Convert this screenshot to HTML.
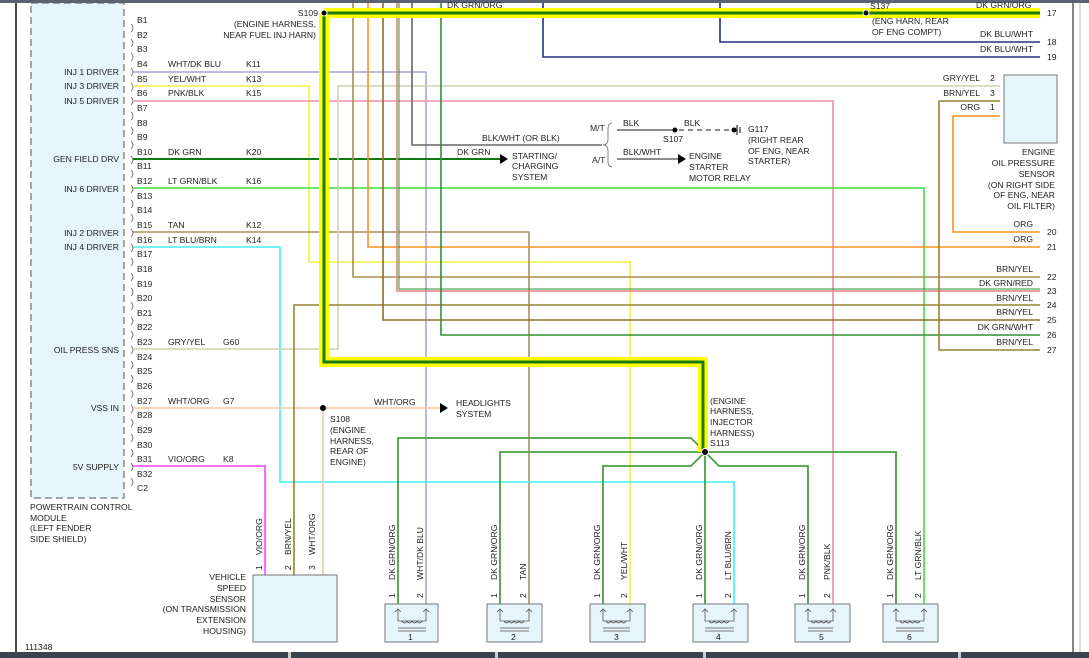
<!DOCTYPE html>
<html><head><meta charset="utf-8"><style>
html,body{margin:0;padding:0;background:#fff;}
svg{display:block;font-family:"Liberation Sans",Arial,sans-serif;}
text{font-size:8.6px;fill:#222;}
</style></head><body>
<svg width="1089" height="658" viewBox="0 0 1089 658" xmlns="http://www.w3.org/2000/svg">
<line x1="16" y1="0" x2="16" y2="652" stroke="#111" stroke-width="1.5"/>
<line x1="1073" y1="0" x2="1073" y2="652" stroke="#333" stroke-width="1.2"/>
<line x1="1080" y1="0" x2="1080" y2="652" stroke="#bbb" stroke-width="1"/>
<rect x="0" y="652" width="1089" height="6" fill="#3a4350"/>
<g fill="#ccc"><rect x="288" y="652" width="3" height="6"/><rect x="495" y="652" width="3" height="6"/><rect x="703" y="652" width="3" height="6"/><rect x="958" y="652" width="3" height="6"/></g>
<text x="25" y="650">111348</text>

<rect x="31" y="3" width="93" height="495" fill="#e6f4fb" stroke="#888" stroke-width="1.5" stroke-dasharray="7,4"/>
<g text-anchor="end">
<text x="119" y="75">INJ 1 DRIVER</text><text x="119" y="89">INJ 3 DRIVER</text><text x="119" y="104">INJ 5 DRIVER</text>
<text x="119" y="162">GEN FIELD DRV</text><text x="119" y="192">INJ 6 DRIVER</text>
<text x="119" y="236">INJ 2 DRIVER</text><text x="119" y="250">INJ 4 DRIVER</text>
<text x="119" y="353">OIL PRESS SNS</text><text x="119" y="411">VSS IN</text><text x="119" y="470">5V SUPPLY</text>
</g>
<text x="30" y="510">POWERTRAIN CONTROL</text><text x="30" y="521">MODULE</text><text x="30" y="531">(LEFT FENDER</text><text x="30" y="542">SIDE SHIELD)</text>
<g>
<text x="137" y="23">B1</text><text x="137" y="38">B2</text><text x="137" y="52">B3</text><text x="137" y="67">B4</text><text x="137" y="82">B5</text><text x="137" y="96">B6</text><text x="137" y="111">B7</text><text x="137" y="126">B8</text><text x="137" y="140">B9</text><text x="137" y="155">B10</text><text x="137" y="169">B11</text><text x="137" y="184">B12</text><text x="137" y="199">B13</text><text x="137" y="213">B14</text><text x="137" y="228">B15</text><text x="137" y="243">B16</text><text x="137" y="257">B17</text><text x="137" y="272">B18</text><text x="137" y="287">B19</text><text x="137" y="301">B20</text><text x="137" y="316">B21</text><text x="137" y="330">B22</text><text x="137" y="345">B23</text><text x="137" y="360">B24</text><text x="137" y="374">B25</text><text x="137" y="389">B26</text><text x="137" y="404">B27</text><text x="137" y="418">B28</text><text x="137" y="433">B29</text><text x="137" y="448">B30</text><text x="137" y="462">B31</text><text x="137" y="477">B32</text><text x="137" y="491">C2</text>
</g>
<g fill="none" stroke="#666" stroke-width="0.8">
<path d="M131,24 q4,4 0,8 M131,39 q4,4 0,8 M131,53 q4,4 0,8 M131,68 q4,4 0,8 M131,83 q4,4 0,8 M131,97 q4,4 0,8 M131,112 q4,4 0,8 M131,127 q4,4 0,8 M131,141 q4,4 0,8 M131,156 q4,4 0,8 M131,170 q4,4 0,8 M131,185 q4,4 0,8 M131,200 q4,4 0,8 M131,214 q4,4 0,8 M131,229 q4,4 0,8 M131,244 q4,4 0,8 M131,258 q4,4 0,8 M131,273 q4,4 0,8 M131,288 q4,4 0,8 M131,302 q4,4 0,8 M131,317 q4,4 0,8 M131,331 q4,4 0,8 M131,346 q4,4 0,8 M131,361 q4,4 0,8 M131,375 q4,4 0,8 M131,390 q4,4 0,8 M131,405 q4,4 0,8 M131,419 q4,4 0,8 M131,434 q4,4 0,8 M131,449 q4,4 0,8 M131,463 q4,4 0,8 M131,478 q4,4 0,8"/>
</g>

<g fill="none" stroke-width="1.6">
<polyline points="133,72 426,72 426,604" stroke="#a4a8d4"/>
<polyline points="133,86 309,86 309,262 630,262 630,604" stroke="#f4f040"/>
<polyline points="133,101 833,101 833,604" stroke="#ee90a4"/>
<polyline points="133,159 500,159" stroke="#107a10" stroke-width="2"/>
<polyline points="133,188 924,188 924,604" stroke="#40dd40"/>
<polyline points="133,232 529,232 529,604" stroke="#a89060"/>
<polyline points="133,247 280,247 280,482 734,482 734,604" stroke="#40f0f0"/>
<polyline points="133,349 338,349 338,86 1000,86" stroke="#d0d0b0"/>
<polyline points="133,408 440,408" stroke="#f0c8a0"/>
<polyline points="323,408 323,575" stroke="#f0c8a0"/>
<polyline points="133,466 265,466 265,575" stroke="#ff44ff"/>
<polyline points="294,575 294,305 1040,305" stroke="#9a8030"/>
<polyline points="353,3 353,277 1040,277" stroke="#a89048"/>
<polyline points="368,3 368,247 1040,247" stroke="#ff9020"/>
<polyline points="383,3 383,320 1040,320" stroke="#8a7028"/>
<polyline points="397,3 397,291 1040,291" stroke="#e08080"/>
<polyline points="399,3 399,289 1040,289" stroke="#309030" stroke-width="1"/>
<polyline points="412,3 412,145 602,145" stroke="#666"/>
<polyline points="441,3 441,335 1040,335" stroke="#309030"/>
<polyline points="543,3 543,57 1040,57" stroke="#203080"/>
<polyline points="720,3 720,42 1040,42" stroke="#203080"/>
<polyline points="939,101 1000,101" stroke="#9a8030"/>
<polyline points="939,101 939,350 1040,350" stroke="#9a8030"/>
<polyline points="1000,116 953,116 953,232 1040,232" stroke="#ff9020"/>
</g>
<g fill="none" stroke-width="1.8" stroke="#48a040">
<polyline points="398,604 398,438 691,438 705,452"/>
<polyline points="500,604 500,452 896,452 896,604"/>
<polyline points="603,604 603,466 691,466 705,452 719,466 808,466 808,604"/>
<polyline points="705,452 705,604"/>
</g>
<polyline points="324,13 1040,13" fill="none" stroke="#ffff00" stroke-width="10"/>
<polyline points="324,13 324,362 703,362 703,452" fill="none" stroke="#ffff00" stroke-width="10"/>
<polyline points="324,13 1040,13" fill="none" stroke="#1a7a10" stroke-width="3"/>
<polyline points="324,13 324,362 703,362 703,452" fill="none" stroke="#1a7a10" stroke-width="3"/>
<rect x="0" y="0" width="1089" height="3" fill="#5a6470"/>
<circle cx="324" cy="13" r="3" fill="#000" stroke="#fff" stroke-width="1"/>
<circle cx="866" cy="13" r="3" fill="#000" stroke="#fff" stroke-width="1"/>
<circle cx="705" cy="452" r="3.5" fill="#000" stroke="#fff" stroke-width="1"/>
<circle cx="323" cy="408" r="3" fill="#000"/>
<text x="318" y="16" text-anchor="end">S109</text>
<text x="316" y="27" text-anchor="end">(ENGINE HARNESS,</text><text x="316" y="38" text-anchor="end">NEAR FUEL INJ HARN)</text>
<text x="447" y="8">DK GRN/ORG</text><text x="976" y="8">DK GRN/ORG</text>
<text x="870" y="9">S137</text><text x="872" y="24">(ENG HARN, REAR</text><text x="872" y="35">OF ENG COMPT)</text>

<g text-anchor="end">
<text x="1033" y="37">DK BLU/WHT</text><text x="1033" y="52">DK BLU/WHT</text>
<text x="1033" y="227">ORG</text><text x="1033" y="242">ORG</text>
<text x="1033" y="272">BRN/YEL</text><text x="1033" y="286">DK GRN/RED</text><text x="1033" y="301">BRN/YEL</text><text x="1033" y="315">BRN/YEL</text><text x="1033" y="330">DK GRN/WHT</text><text x="1033" y="345">BRN/YEL</text>
<text x="980" y="81">GRY/YEL</text><text x="980" y="96">BRN/YEL</text><text x="980" y="110">ORG</text>
</g>
<g><text x="1047" y="16">17</text><text x="1047" y="45">18</text><text x="1047" y="60">19</text><text x="1047" y="235">20</text><text x="1047" y="250">21</text><text x="1047" y="280">22</text><text x="1047" y="294">23</text><text x="1047" y="308">24</text><text x="1047" y="323">25</text><text x="1047" y="338">26</text><text x="1047" y="353">27</text>
<text x="990" y="81">2</text><text x="990" y="96">3</text><text x="990" y="110">1</text></g>
<rect x="1004" y="75" width="53" height="68" fill="#e6f4fb" stroke="#777" stroke-width="1"/>
<g text-anchor="end"><text x="1055" y="155">ENGINE</text><text x="1055" y="166">OIL PRESSURE</text><text x="1055" y="177">SENSOR</text><text x="1055" y="188">(ON RIGHT SIDE</text><text x="1055" y="198">OF ENG, NEAR</text><text x="1055" y="209">OIL FILTER)</text></g>

<text x="482" y="141">BLK/WHT (OR BLK)</text>
<text x="457" y="155">DK GRN</text>
<polygon points="500,154 508,159 500,164" fill="#000"/>
<text x="512" y="159">STARTING/</text><text x="512" y="169">CHARGING</text><text x="512" y="180">SYSTEM</text>
<text x="590" y="131">M/T</text><text x="592" y="163">A/T</text>
<path d="M612,123 q-4,0 -4,6 l0,10 q0,6 -5,6 q5,0 5,6 l0,10 q0,6 4,6" fill="none" stroke="#666" stroke-width="0.8"/>
<line x1="617" y1="130" x2="675" y2="130" stroke="#666" stroke-width="1.6"/>
<circle cx="675" cy="130" r="2.5" fill="#000"/>
<line x1="679" y1="130" x2="732" y2="130" stroke="#666" stroke-width="1.6" stroke-dasharray="5,4"/>
<circle cx="734" cy="130" r="2.5" fill="#000"/><line x1="737" y1="125" x2="737" y2="135" stroke="#000"/><line x1="740" y1="127" x2="740" y2="133" stroke="#000"/>
<text x="623" y="126">BLK</text><text x="684" y="126">BLK</text><text x="663" y="142">S107</text>
<text x="748" y="132">G117</text><text x="748" y="143">(RIGHT REAR</text><text x="748" y="154">OF ENG, NEAR</text><text x="748" y="164">STARTER)</text>
<line x1="617" y1="159" x2="678" y2="159" stroke="#666" stroke-width="1.6"/>
<polygon points="678,154 686,159 678,164" fill="#000"/>
<text x="623" y="155">BLK/WHT</text>
<text x="689" y="159">ENGINE</text><text x="689" y="170">STARTER</text><text x="689" y="181">MOTOR RELAY</text>

<text x="168" y="67">WHT/DK BLU</text><text x="246" y="67">K11</text>
<text x="168" y="82">YEL/WHT</text><text x="246" y="82">K13</text>
<text x="168" y="96">PNK/BLK</text><text x="246" y="96">K15</text>
<text x="168" y="155">DK GRN</text><text x="246" y="155">K20</text>
<text x="168" y="184">LT GRN/BLK</text><text x="246" y="184">K16</text>
<text x="168" y="228">TAN</text><text x="246" y="228">K12</text>
<text x="168" y="243">LT BLU/BRN</text><text x="246" y="243">K14</text>
<text x="168" y="345">GRY/YEL</text><text x="223" y="345">G60</text>
<text x="168" y="404">WHT/ORG</text><text x="223" y="404">G7</text>
<text x="168" y="462">VIO/ORG</text><text x="223" y="462">K8</text>
<text x="374" y="405">WHT/ORG</text>
<polygon points="440,403 448,408 440,413" fill="#000"/>
<text x="456" y="406">HEADLIGHTS</text><text x="456" y="417">SYSTEM</text>
<text x="330" y="422">S108</text><text x="330" y="433">(ENGINE</text><text x="330" y="444">HARNESS,</text><text x="330" y="454">REAR OF</text><text x="330" y="465">ENGINE)</text>
<text x="710" y="404">(ENGINE</text><text x="710" y="414">HARNESS,</text><text x="710" y="425">INJECTOR</text><text x="710" y="436">HARNESS)</text><text x="710" y="446">S113</text>

<rect x="253" y="575" width="84" height="67" fill="#e6f4fb" stroke="#777"/>
<g text-anchor="end"><text x="246" y="580">VEHICLE</text><text x="246" y="591">SPEED</text><text x="246" y="602">SENSOR</text><text x="246" y="612">(ON TRANSMISSION</text><text x="246" y="623">EXTENSION</text><text x="246" y="634">HOUSING)</text></g>
<g>
<text transform="translate(262,555) rotate(-90)">VIO/ORG</text>
<text transform="translate(291,555) rotate(-90)">BRN/YEL</text>
<text transform="translate(315,555) rotate(-90)">WHT/ORG</text>
<text transform="translate(262,570) rotate(-90)">1</text><text transform="translate(291,570) rotate(-90)">2</text><text transform="translate(315,570) rotate(-90)">3</text>
</g>

<g fill="#e6f4fb" stroke="#777">
<rect x="385" y="604" width="53" height="38"/><rect x="487" y="604" width="55" height="38"/><rect x="590" y="604" width="55" height="38"/><rect x="693" y="604" width="55" height="38"/><rect x="795" y="604" width="55" height="38"/><rect x="883" y="604" width="55" height="38"/>
</g>
<g fill="none" stroke="#555" stroke-width="0.8">
<path d="M398,609 v12 h28 v-12 M395,612 l3,-3 3,3 M423,612 l3,-3 3,3 M402,621 q2.5,4 5,0 q2.5,4 5,0 q2.5,4 5,0 q2.5,4 5,0 M398,628 h28 M398,631 h28"/>
<path d="M500,609 v12 h29 v-12 M497,612 l3,-3 3,3 M526,612 l3,-3 3,3 M504,621 q2.5,4 5,0 q2.5,4 5,0 q2.5,4 5,0 q2.5,4 5,0 M500,628 h29 M500,631 h29"/>
<path d="M603,609 v12 h27 v-12 M600,612 l3,-3 3,3 M627,612 l3,-3 3,3 M606,621 q2.5,4 5,0 q2.5,4 5,0 q2.5,4 5,0 q2.5,4 5,0 M603,628 h27 M603,631 h27"/>
<path d="M705,609 v12 h29 v-12 M702,612 l3,-3 3,3 M731,612 l3,-3 3,3 M709,621 q2.5,4 5,0 q2.5,4 5,0 q2.5,4 5,0 q2.5,4 5,0 M705,628 h29 M705,631 h29"/>
<path d="M808,609 v12 h25 v-12 M805,612 l3,-3 3,3 M830,612 l3,-3 3,3 M811,621 q2.5,4 5,0 q2.5,4 5,0 q2.5,4 5,0 q2.5,4 5,0 M808,628 h25 M808,631 h25"/>
<path d="M896,609 v12 h28 v-12 M893,612 l3,-3 3,3 M921,612 l3,-3 3,3 M900,621 q2.5,4 5,0 q2.5,4 5,0 q2.5,4 5,0 q2.5,4 5,0 M896,628 h28 M896,631 h28"/>
</g>
<text x="408" y="640">1</text><text x="511" y="640">2</text><text x="614" y="640">3</text><text x="716" y="640">4</text><text x="819" y="640">5</text><text x="907" y="640">6</text>
<g>
<text transform="translate(395,580) rotate(-90)">DK GRN/ORG</text><text transform="translate(423,580) rotate(-90)">WHT/DK BLU</text>
<text transform="translate(497,580) rotate(-90)">DK GRN/ORG</text><text transform="translate(526,580) rotate(-90)">TAN</text>
<text transform="translate(600,580) rotate(-90)">DK GRN/ORG</text><text transform="translate(627,580) rotate(-90)">YEL/WHT</text>
<text transform="translate(702,580) rotate(-90)">DK GRN/ORG</text><text transform="translate(731,580) rotate(-90)">LT BLU/BRN</text>
<text transform="translate(805,580) rotate(-90)">DK GRN/ORG</text><text transform="translate(830,580) rotate(-90)">PNK/BLK</text>
<text transform="translate(893,580) rotate(-90)">DK GRN/ORG</text><text transform="translate(921,580) rotate(-90)">LT GRN/BLK</text>
<text transform="translate(395,598) rotate(-90)">1</text><text transform="translate(423,598) rotate(-90)">2</text>
<text transform="translate(497,598) rotate(-90)">1</text><text transform="translate(526,598) rotate(-90)">2</text>
<text transform="translate(600,598) rotate(-90)">1</text><text transform="translate(627,598) rotate(-90)">2</text>
<text transform="translate(702,598) rotate(-90)">1</text><text transform="translate(731,598) rotate(-90)">2</text>
<text transform="translate(805,598) rotate(-90)">1</text><text transform="translate(830,598) rotate(-90)">2</text>
<text transform="translate(893,598) rotate(-90)">1</text><text transform="translate(921,598) rotate(-90)">2</text>
</g>
</svg>
</body></html>
